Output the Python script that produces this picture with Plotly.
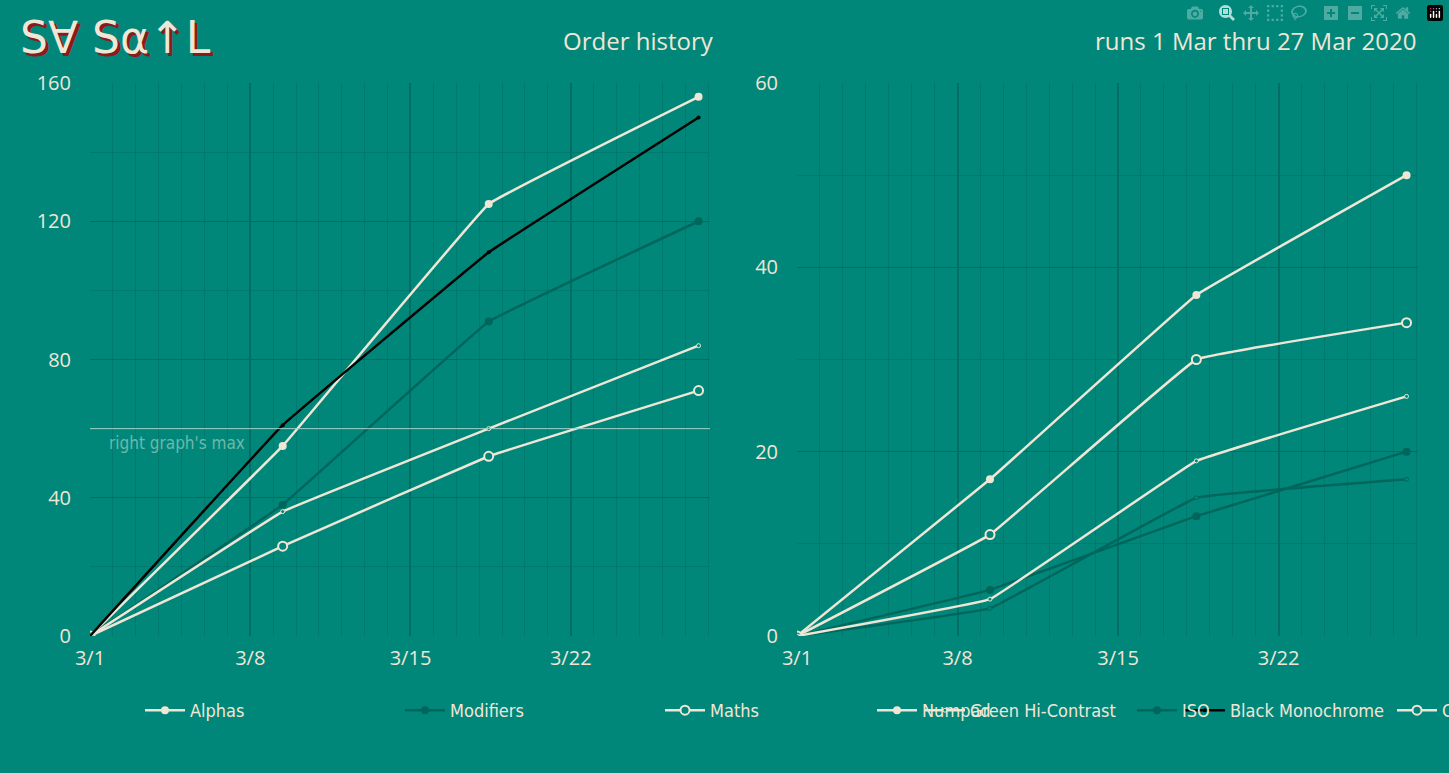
import plotly.graph_objects as go

dates = ["2020-03-01 00:00", "2020-03-09 10:00", "2020-03-18 10:00", "2020-03-27 14:00"]
left_names = ["Alphas", "Modifiers", "Maths", "Green Hi-Contrast", "Black Monochrome"]
left_vals = [[0, 55, 125, 156], [0, 38, 91, 120], [0, 26, 52, 71], [0, 36, 60, 84], [0, 61, 111, 150]]
right_names = ["Numpad", "ISO", "Ortho", "Ergo Blanks", "40s Extension"]
right_vals = [[0, 17, 37, 50], [0, 5, 13, 20], [0, 11, 30, 34], [0, 3, 15, 17], [0, 4, 19, 26]]
right_max = 60

BG = "#00877A"; CREAM = "#F0E6D6"; DARK = "#00665C"; BLACK = "#000000"
styles = [
    dict(color=CREAM, marker=dict(symbol="circle", size=8, color=CREAM)),
    dict(color=DARK, marker=dict(symbol="circle", size=8, color=DARK)),
    dict(color=CREAM, marker=dict(symbol="circle", size=9, color=BG, line=dict(color=CREAM, width=2))),
    dict(color=CREAM, marker=dict(symbol="circle", size=4, color=BG, line=dict(color=CREAM, width=1))),
    dict(color=BLACK, marker=dict(symbol="circle", size=4, color=BLACK)),
]
rstyles = [styles[0], styles[1], styles[2],
           dict(color=DARK, marker=dict(symbol="circle", size=4, color=BG, line=dict(color=DARK, width=1))),
           styles[3]]

fig = go.Figure()
for n, v, s in zip(left_names, left_vals, styles):
    fig.add_trace(go.Scatter(x=dates, y=v, name=n, mode="lines+markers",
                             line=dict(color=s["color"], width=2.5, shape="spline", smoothing=0.15),
                             marker=s["marker"], xaxis="x", yaxis="y", legend="legend"))
for n, v, s in zip(right_names, right_vals, rstyles):
    fig.add_trace(go.Scatter(x=dates, y=v, name=n, mode="lines+markers",
                             line=dict(color=s["color"], width=2.5, shape="spline", smoothing=0.15),
                             marker=s["marker"], xaxis="x2", yaxis="y2", legend="legend2"))

fig.add_shape(type="line", xref="x domain", yref="y", x0=0, x1=1, y0=right_max, y1=right_max,
              line=dict(color="#9FD3C8", width=1))
fig.add_annotation(xref="x", yref="y", x="2020-03-01 18:00", y=right_max, text="right graph's max",
                   showarrow=False, xanchor="left", yanchor="top", yshift=-2,
                   font=dict(family="DejaVu Sans Condensed", size=17, color="#6FB8AA"))

ax = dict(type="date", range=["2020-03-01", "2020-03-28 02:00"], tickvals=["2020-03-01", "2020-03-08", "2020-03-15", "2020-03-22"],
          ticktext=["3/1", "3/8", "3/15", "3/22"], showgrid=True, gridcolor="#006E63", gridwidth=2,
          minor=dict(dtick=86400000, showgrid=True, gridcolor="#007A6E", gridwidth=1),
          zeroline=False, showline=False, ticks="", ticklabelstandoff=8,
          tickfont=dict(family="Open Sans", size=20, color=CREAM))
yax = dict(showgrid=True, gridcolor="#006E63", gridwidth=1, zeroline=False, ticks="", ticklabelstandoff=18,
           tickfont=dict(family="Open Sans", size=20, color=CREAM))
leg = dict(orientation="h", font=dict(family="DejaVu Sans Condensed", size=18, color=CREAM),
           bgcolor="rgba(0,0,0,0)", entrywidth=205, entrywidthmode="pixels", xref="paper", yref="paper",
           xanchor="left", yanchor="top", itemwidth=40, tracegroupgap=0)

fig.update_layout(
    width=1449, height=773, paper_bgcolor=BG, plot_bgcolor=BG,
    margin=dict(l=0, r=0, t=0, b=0, autoexpand=False),
    xaxis=dict(ax, domain=[90/1449, 710/1449], anchor="y"),
    xaxis2=dict(ax, domain=[797/1449, 1418/1449], anchor="y2"),
    yaxis=dict(yax, domain=[1-636/773, 1-83/773], range=[0, 160], tickvals=[0, 40, 80, 120, 160],
               minor=dict(dtick=20, showgrid=True, gridcolor="#007A6E"), anchor="x"),
    yaxis2=dict(yax, domain=[1-636/773, 1-83/773], range=[0, 60], tickvals=[0, 20, 40, 60],
                minor=dict(dtick=10, showgrid=True, gridcolor="#007A6E"), anchor="x2"),
    legend=dict(leg, x=140/1449, y=1-692/773),
    legend2=dict(leg, x=872/1449, y=1-692/773),
    showlegend=True,
)
for sh, col in [(3, "#8B1A1A"), (0, CREAM)]:
    fig.add_annotation(xref="paper", yref="paper", x=18/1449, y=1-10/773, xshift=sh, yshift=-sh,
                       text="S∀ Sα↑L", showarrow=False, xanchor="left", yanchor="top",
                       font=dict(family="DejaVu Sans", size=44, color=col))
fig.add_annotation(xref="paper", yref="paper", x=716/1449, y=1-40/773, text="Order history", showarrow=False,
                   xanchor="right", yanchor="middle", font=dict(family="Open Sans", size=24, color=CREAM))
fig.add_annotation(xref="paper", yref="paper", x=1418/1449, y=1-40/773, text="runs 1 Mar thru 27 Mar 2020",
                   showarrow=False, xanchor="right", yanchor="middle", font=dict(family="Open Sans", size=24, color=CREAM))
fig.write_html("out.html", post_script="document.body.style.margin='0';document.body.style.background='#00877A';")
